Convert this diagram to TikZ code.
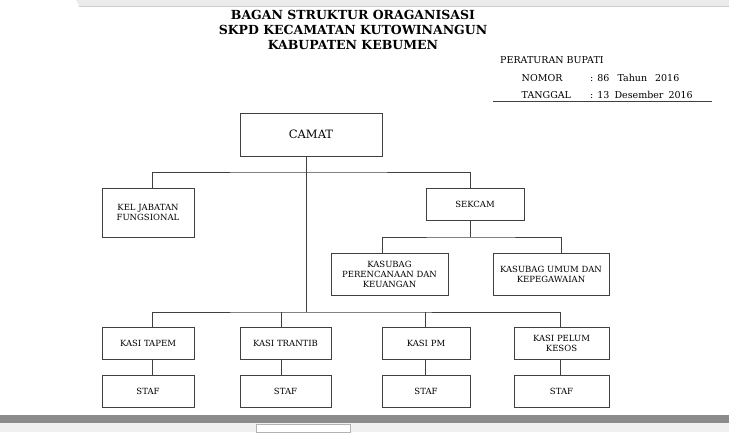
\documentclass[tikz,border=0pt]{standalone}
\usepackage{fontspec}
\setmainfont{DejaVu Serif}
\usepackage{tikz}

\begin{document}
\begin{tikzpicture}[x=1pt, y=-1pt, node distance=48pt,
    box/.style={rectangle, draw=black!75, line width=0.7pt, inner sep=0pt, align=center, font=\fontsize{8.5}{10}\selectfont},
    kasi/.style={box, minimum height=32pt},
    info/.style={anchor=west, inner sep=0pt, font=\fontsize{9.5}{11}\selectfont},
    line/.style={draw=black!75, line width=0.7pt}]
    \useasboundingbox (0,0) rectangle (729,432);
    % browser strips
    \fill[black!8] (0,0) rectangle (729,6);
    \fill[white] (0,0) -- (76,0) -- (79,6) -- (0,6) -- cycle;
    \draw[black!20] (79,6) -- (729,6);
    \fill[black!45] (0,415) rectangle (729,423);
    \fill[black!6] (0,423) rectangle (729,432);
    \draw[black!30, fill=white] (256,424.5) rectangle (350,432);

    \node[font=\fontsize{12.5}{15}\selectfont\bfseries, align=center] (judul) at (353,29.5)
        {BAGAN STRUKTUR ORAGANISASI\\SKPD KECAMATAN KUTOWINANGUN\\KABUPATEN KEBUMEN};
    \node[info] (perbup) at (500,60) {PERATURAN BUPATI};
    \node[info] (nomor) at (521.5,78) {NOMOR};
    \node[info] (nomorval) at (590,78) {: 86\hspace{8pt}Tahun\hspace{8pt}2016};
    \node[info] (tgl) at (521.5,95) {TANGGAL};
    \node[info] (tglval) at (590,95) {: 13\hspace{5pt}Desember\hspace{5pt}2016};
    \coordinate (ul-a) at (493,101);
    \coordinate (ul-b) at (712,101);
    \draw[line] (ul-a) -- (ul-b);

    \node[box, minimum width=142pt, minimum height=43pt, font=\fontsize{11.5}{13}\selectfont] (camat) at (311,134.5) {CAMAT};
    \node[box, minimum width=92pt, minimum height=49pt] (kel) at (148,212.5) {KEL JABATAN\\FUNGSIONAL};
    \node[box, minimum width=98pt, minimum height=32pt] (sekcam) at (475,204) {SEKCAM};
    \node[box, minimum width=117pt, minimum height=42pt] (renkeu) at (389.5,274) {KASUBAG\\PERENCANAAN DAN\\KEUANGAN};
    \node[box, minimum width=116pt, minimum height=42pt] (umpeg) at (551,274) {KASUBAG UMUM DAN\\KEPEGAWAIAN};

    \node[kasi, minimum width=92pt] (tapem) at (148,343) {KASI TAPEM};
    \node[kasi, minimum width=91pt] (trantib) at (285.5,343) {KASI TRANTIB};
    \node[kasi, minimum width=88pt] (pm) at (426,343) {KASI PM};
    \node[kasi, minimum width=95pt] (pelum) at (561.5,343) {KASI PELUM\\KESOS};
    \node[kasi, minimum width=92pt, below of=tapem] (staf1) {STAF};
    \node[kasi, minimum width=91pt, below of=trantib] (staf2) {STAF};
    \node[kasi, minimum width=88pt, below of=pm] (staf3) {STAF};
    \node[kasi, minimum width=95pt, below of=pelum] (staf4) {STAF};

    \coordinate (hub1) at (306,172);
    \coordinate (hub2) at (306,312);
    \coordinate (hub3) at (470,237);

    \draw[line] (camat.south -| hub1) -- (hub2);
    \draw[line] ([xshift=4pt]kel.north) |- (hub1) -| ([xshift=-5pt]sekcam.north);
    \draw[line] (sekcam.south -| hub3) -- (hub3);
    \draw[line] ([xshift=-7.5pt]renkeu.north) |- (hub3) -| ([xshift=10pt]umpeg.north);
    \draw[line] ([xshift=4pt]tapem.north) |- (hub2) -| ([xshift=-1.5pt]pelum.north);
    \draw[line] ([xshift=-4.5pt]trantib.north) -- ([xshift=-4.5pt]trantib.north |- hub2);
    \draw[line] ([xshift=-1pt]pm.north) -- ([xshift=-1pt]pm.north |- hub2);
    \draw[line] ([xshift=4pt]tapem.south) -- ([xshift=4pt]staf1.north);
    \draw[line] ([xshift=-4.5pt]trantib.south) -- ([xshift=-4.5pt]staf2.north);
    \draw[line] ([xshift=-1pt]pm.south) -- ([xshift=-1pt]staf3.north);
    \draw[line] ([xshift=-1.5pt]pelum.south) -- ([xshift=-1.5pt]staf4.north);
\end{tikzpicture}
\end{document}
